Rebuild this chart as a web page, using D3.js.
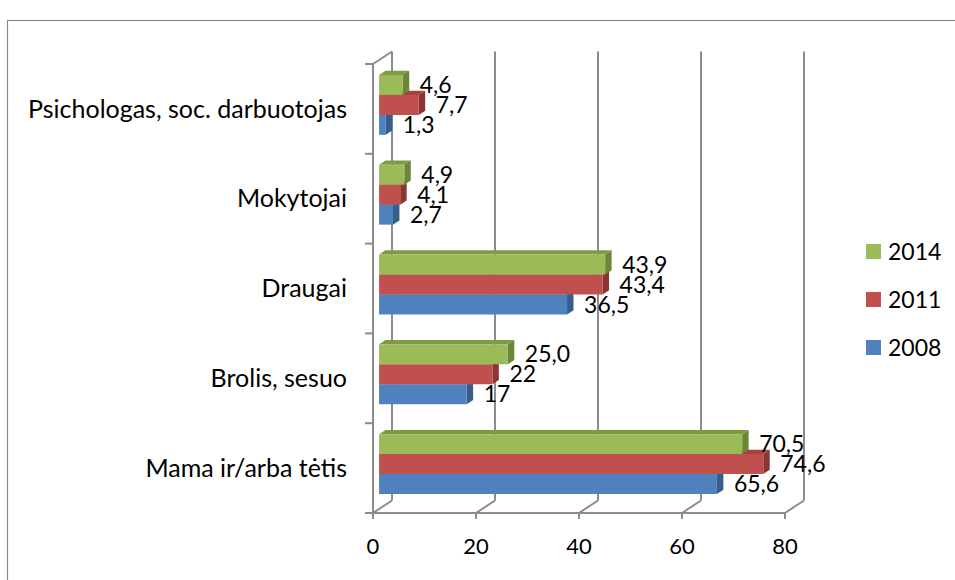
<!DOCTYPE html>
<html>
<head>
<meta charset="utf-8">
<script src="https://cdn.jsdelivr.net/npm/d3@7"></script>
<style>
  body { margin: 0; background: #fff; }
  text { font-family: Lato, "Noto Sans", sans-serif; font-size: 22px; fill: #000; }
  .cat { font-size: 25px; }
  .leg { font-size: 23px; }
  .val { font-size: 23px; }
</style>
</head>
<body>
<svg id="chart" width="955" height="580"></svg>
<script>
// Categories (top to bottom) and the three survey years
const categories = ["Psichologas, soc. darbuotojas", "Mokytojai", "Draugai", "Brolis, sesuo", "Mama ir/arba tėtis"];
const seriesNames = ["2014", "2011", "2008"];
// Value labels as printed; bar lengths are parsed from the same strings
const labels2014 = ["4,6", "4,9", "43,9", "25,0", "70,5"];
const labels2011 = ["7,7", "4,1", "43,4", "22", "74,6"];
const labels2008 = ["1,3", "2,7", "36,5", "17", "65,6"];
const xTicks = [0, 20, 40, 60, 80];

const toNum = s => +s.replace(",", ".");
const seriesLabels = { "2014": labels2014, "2011": labels2011, "2008": labels2008 };
const palette = {
  "2014": { front: "#9BBB59", top: "#7C9B44", side: "#6A8737" },
  "2011": { front: "#C0504D", top: "#A8423F", side: "#8C3533" },
  "2008": { front: "#4F81BD", top: "#4370A6", side: "#385D8A" }
};

const svg = d3.select("#chart");
const gridColor = "#8c8c8c";

// Outer chart frame
svg.append("rect").attr("x", 7.5).attr("y", 20.5).attr("width", 1000).attr("height", 700)
  .attr("fill", "none").attr("stroke", "#8a8a8a").attr("stroke-width", 1.2);

// Scales on the front plane; depth adds a shear offset
const x = d3.scaleLinear().domain([0, 80]).range([373, 785]);
const y = d3.scaleBand().domain(categories).range([64, 513]);
const inner = d3.scaleBand().domain(seriesNames)
  .range([y.bandwidth() / 6, y.bandwidth() * 5 / 6]);
const DX = 19, DY = -12.5;
const P = (v, yy, f) => [x(v) + DX * f, yy + DY * f];
const yTop = y.range()[0], yBot = y.range()[1];

const walls = svg.append("g").attr("stroke", gridColor).attr("stroke-width", 2).attr("fill", "none");
// back-wall gridlines
xTicks.forEach(t => {
  walls.append("line")
    .attr("x1", P(t, yTop, 1)[0]).attr("y1", P(t, yTop, 1)[1])
    .attr("x2", P(t, yBot, 1)[0]).attr("y2", P(t, yBot, 1)[1]);
  // floor edges running back from the axis
  walls.append("line")
    .attr("x1", P(t, yBot, 0)[0]).attr("y1", P(t, yBot, 0)[1])
    .attr("x2", P(t, yBot, 1)[0]).attr("y2", P(t, yBot, 1)[1]);
  // tick marks below the value axis
  walls.append("line")
    .attr("x1", x(t)).attr("y1", yBot).attr("x2", x(t)).attr("y2", yBot + 6);
});
// front floor edge and category axis
walls.append("line").attr("x1", x(0)).attr("y1", yBot).attr("x2", x(80)).attr("y2", yBot);
walls.append("line").attr("x1", x(0)).attr("y1", yTop).attr("x2", x(0)).attr("y2", yBot);
walls.append("line")
  .attr("x1", P(0, yTop, 0)[0]).attr("y1", P(0, yTop, 0)[1])
  .attr("x2", P(0, yTop, 1)[0]).attr("y2", P(0, yTop, 1)[1]);
// category tick marks at band boundaries
const bounds = categories.map(c => y(c)).concat([yBot]);
bounds.forEach(b => {
  walls.append("line").attr("x1", x(0) - 8).attr("y1", b).attr("x2", x(0)).attr("y2", b);
});

// 3D bars: drawn from the lowest series up so upper bars hide lower top faces
const f0 = 0.32, f1 = 0.66;
const poly = pts => pts.map(p => p.join(",")).join(" ");
const bars = svg.append("g");
const labelsG = svg.append("g");
categories.forEach((c, ci) => {
  seriesNames.slice().reverse().forEach(s => {
    const v = toNum(seriesLabels[s][ci]);
    const y0 = y(c) + inner(s), y1 = y0 + inner.bandwidth();
    const col = palette[s];
    bars.append("polygon").attr("fill", col.top)
      .attr("points", poly([P(0, y0, f0), P(v, y0, f0), P(v, y0, f1), P(0, y0, f1)]));
    bars.append("polygon").attr("fill", col.side)
      .attr("points", poly([P(v, y0, f0), P(v, y0, f1), P(v, y1, f1), P(v, y1, f0)]));
    bars.append("polygon").attr("fill", col.front)
      .attr("points", poly([P(0, y0, f0), P(v, y0, f0), P(v, y1, f0), P(0, y1, f0)]));
    const [lx, ly] = P(v, (y0 + y1) / 2, f0);
    labelsG.append("text").attr("class", "val")
      .attr("x", lx + 17).attr("y", ly).attr("dy", "0.35em")
      .text(seriesLabels[s][ci]);
  });
});

// Category labels
svg.append("g").selectAll("text").data(categories).join("text")
  .attr("class", "cat")
  .attr("x", 347).attr("y", d => y(d) + y.bandwidth() / 2).attr("dy", "0.35em")
  .attr("text-anchor", "end").text(d => d);

// Value-axis labels
svg.append("g").selectAll("text").data(xTicks).join("text")
  .attr("x", d => x(d)).attr("y", 554).attr("text-anchor", "middle").text(d => d);

// Legend
const legend = svg.append("g").attr("transform", "translate(866,244)");
seriesNames.forEach((s, i) => {
  legend.append("rect").attr("x", 0).attr("y", i * 48).attr("width", 15).attr("height", 15)
    .attr("fill", palette[s].front);
  legend.append("text").attr("class", "leg")
    .attr("x", 22).attr("y", i * 48 + 7.5).attr("dy", "0.35em").text(s);
});
</script>
</body>
</html>
